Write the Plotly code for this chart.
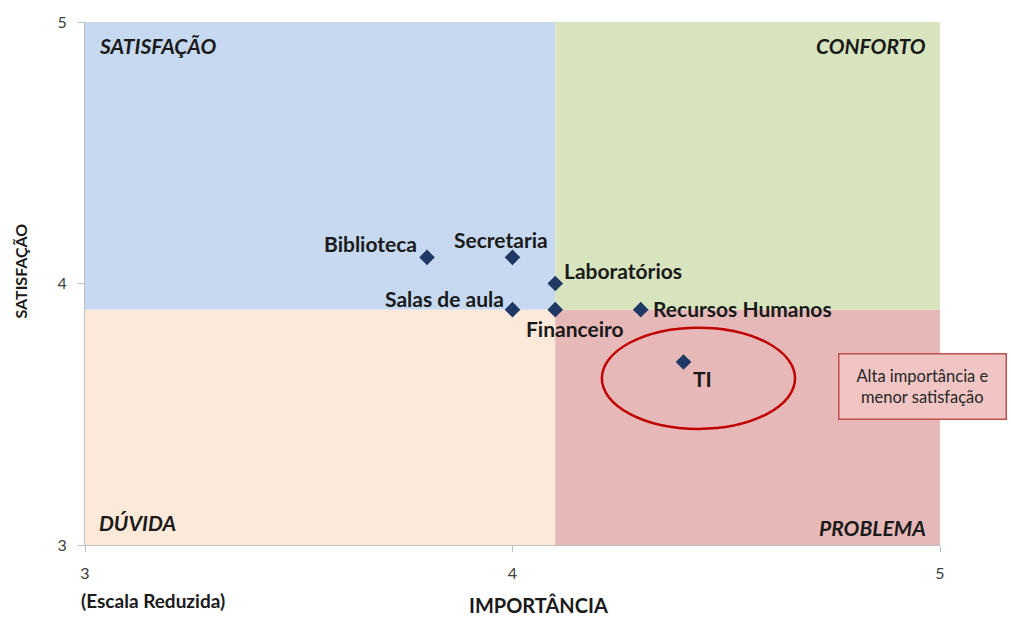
import plotly.graph_objects as go

# Areas evaluated: importance (x) vs satisfaction (y)
areas = ["Biblioteca", "Secretaria", "Laboratórios", "Salas de aula",
         "Financeiro", "Recursos Humanos", "TI"]
importancia = [3.8, 4.0, 4.1, 4.0, 4.1, 4.3, 4.4]
satisfacao = [4.1, 4.1, 4.0, 3.9, 3.9, 3.9, 3.7]

# Label placement for each point: anchor, x shift, y shift (pixels)
label_anchor = ["right", "center", "left", "right", "center", "left", "left"]
label_dx = [-8, -12, 7, -7, 20, 10, 7]
label_dy = [14, 18, 13, 11, -19, 1, -17]

# Axis extents and quadrant dividers
x_min, x_max = 3, 5
y_min, y_max = 3, 5
x_div, y_div = 4.1, 3.9
tick_vals = [3, 4, 5]

# Quadrants: name, x0, x1, y0, y1, fill colour
quadrants = [
    ("SATISFAÇÃO", x_min, x_div, y_div, y_max, "#C6D9F0"),
    ("CONFORTO", x_div, x_max, y_div, y_max, "#D7E4BD"),
    ("DÚVIDA", x_min, x_div, y_min, y_div, "#FDE9D9"),
    ("PROBLEMA", x_div, x_max, y_min, y_div, "#E6B9B8"),
]

# Highlight around TI
ellipse_x = [4.209, 4.661]
ellipse_y = [3.444, 3.831]
note_text = "Alta importância e<br>menor satisfação"

FONT = "Lato"
TEXT = "#1a1a1a"

fig = go.Figure()

for name, x0, x1, y0, y1, col in quadrants:
    fig.add_shape(type="rect", xref="x", yref="y", x0=x0, x1=x1, y0=y0, y1=y1,
                  fillcolor=col, line=dict(width=0), layer="below")

fig.add_shape(type="circle", xref="x", yref="y",
              x0=ellipse_x[0], x1=ellipse_x[1], y0=ellipse_y[0], y1=ellipse_y[1],
              line=dict(color="#C00000", width=2.5), fillcolor="rgba(0,0,0,0)")

fig.add_trace(go.Scatter(
    x=importancia, y=satisfacao, mode="markers",
    marker=dict(symbol="diamond", size=12, color="#1F3864"),
    hoverinfo="x+y+text", text=areas, showlegend=False,
))

for name, xv, yv, anc, dx, dy in zip(areas, importancia, satisfacao,
                                     label_anchor, label_dx, label_dy):
    fig.add_annotation(x=xv, y=yv, text=f"<b>{name}</b>", showarrow=False,
                       xanchor=anc, yanchor="middle", xshift=dx, yshift=dy,
                       font=dict(family=FONT, size=21, color=TEXT))

# Quadrant titles
quad_pos = {
    "SATISFAÇÃO": (x_min, y_max, "left", "top", 12, -9),
    "CONFORTO": (x_max, y_max, "right", "top", -12, -9),
    "DÚVIDA": (x_min, y_min, "left", "bottom", 12, 8),
    "PROBLEMA": (x_max, y_min, "right", "bottom", -12, 3),
}
for name, (xv, yv, xa, ya, dx, dy) in quad_pos.items():
    fig.add_annotation(x=xv, y=yv, text=f"<b><i>{name}</i></b>", showarrow=False,
                       xanchor=xa, yanchor=ya, xshift=dx, yshift=dy,
                       font=dict(family=FONT, size=21, color=TEXT))

# Callout box
fig.add_annotation(x=4.96, y=3.607, text=note_text, showarrow=False,
                   xanchor="center", yanchor="middle",
                   font=dict(family=FONT, size=16.5, color="#262626"),
                   bgcolor="#F0C5C4", bordercolor="#C0504D", borderwidth=1.5,
                   borderpad=6, align="center", width=154, height=52)

# Scale note under the x-axis origin
fig.add_annotation(x=x_min, y=y_min, text="<b>(Escala Reduzida)</b>", showarrow=False,
                   xanchor="left", yanchor="top", xshift=-6, yshift=-42,
                   font=dict(family=FONT, size=19, color=TEXT))

# Axis titles
fig.add_annotation(xref="paper", yref="paper", x=0.5305, y=0, text="<b>IMPORTÂNCIA</b>",
                   showarrow=False, xanchor="center", yanchor="top", yshift=-46,
                   font=dict(family=FONT, size=20, color=TEXT))
fig.add_annotation(xref="paper", yref="paper", x=0, y=0.5, text="<b>SATISFAÇÃO</b>",
                   showarrow=False, textangle=-90, xanchor="center", yanchor="middle",
                   xshift=-65, yshift=12,
                   font=dict(family=FONT, size=16, color=TEXT))

axis_common = dict(showgrid=False, zeroline=False, showline=True, linecolor="#BFBFBF",
                   linewidth=1, ticks="outside", tickcolor="#BFBFBF", ticklen=6,
                   ticklabelstandoff=8,
                   tickvals=tick_vals, tickfont=dict(family=FONT, size=16, color="#404040"))

fig.update_xaxes(range=[x_min, x_max], **axis_common)
fig.update_yaxes(range=[y_min, y_max], **axis_common)

fig.update_layout(
    width=1011, height=619,
    margin=dict(l=85, r=71, t=18, b=74),
    paper_bgcolor="white", plot_bgcolor="white",
    showlegend=False,
)

fig.write_html("out.html")
